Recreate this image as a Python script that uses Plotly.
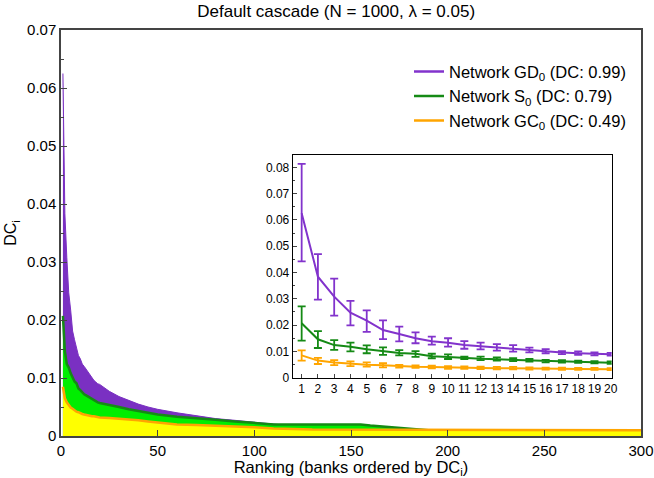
import plotly.graph_objects as go

# --- data ---
top_rank = list(range(1, 21))
tail_rank = [25, 30, 35, 40, 45, 50, 60, 70, 80, 90, 100, 110, 115, 120, 130,
             140, 150, 155, 160, 170, 180, 190, 200, 250, 300]

gd_mean = [0.0625, 0.0384, 0.0308, 0.0247, 0.0217, 0.0181, 0.0166, 0.0150, 0.0139, 0.0133,
           0.0124, 0.0120, 0.0115, 0.0110, 0.0105, 0.0100, 0.0096, 0.0093, 0.0090, 0.0089]
gd_hi = [0.0813, 0.0470, 0.0377, 0.0292, 0.0256, 0.0218, 0.0194, 0.0172, 0.0156, 0.0150,
         0.0139, 0.0133, 0.0128, 0.0124, 0.0114, 0.0109, 0.0101, 0.0100, 0.0096, 0.0094]
gd_lo = [0.0442, 0.0297, 0.0236, 0.0199, 0.0174, 0.0147, 0.0138, 0.0131, 0.0126, 0.0118,
         0.0110, 0.0108, 0.0103, 0.0099, 0.0096, 0.0093, 0.0090, 0.0087, 0.0085, 0.0084]
gd_tail = [0.0077, 0.0068, 0.0061, 0.0055, 0.0050, 0.0046, 0.0040, 0.0035, 0.0030, 0.0027,
           0.0024, 0.0021, 0.0019, 0.0016, 0.0014, 0.0012, 0.0011, 0.0010, 0.0010, 0.0009,
           0.0009, 0.0008, 0.0008, 0.0008, 0.0008]

s_mean = [0.0207, 0.0146, 0.0124, 0.0118, 0.0108, 0.0101, 0.0094, 0.0091, 0.0082, 0.0079,
          0.0075, 0.0072, 0.0070, 0.0068, 0.0066, 0.0063, 0.0062, 0.0060, 0.0058, 0.0057]
s_hi = [0.0271, 0.0177, 0.0143, 0.0133, 0.0123, 0.0115, 0.0105, 0.0101, 0.0091, 0.0089,
        0.0080, 0.0080, 0.0077, 0.0074, 0.0071, 0.0068, 0.0067, 0.0065, 0.0063, 0.0062]
s_lo = [0.0141, 0.0113, 0.0106, 0.0100, 0.0093, 0.0087, 0.0085, 0.0079, 0.0074, 0.0071,
        0.0071, 0.0067, 0.0065, 0.0063, 0.0061, 0.0058, 0.0057, 0.0056, 0.0055, 0.0053]
s_tail = [0.0054, 0.0050, 0.0046, 0.0043, 0.0040, 0.0037, 0.0033, 0.0031, 0.0028, 0.0025,
          0.0022, 0.0020, 0.0020, 0.0020, 0.0020, 0.0020, 0.0020, 0.0020, 0.0018, 0.0015,
          0.0013, 0.0010, 0.0010, 0.0010, 0.0010]

gc_mean = [0.0085, 0.0065, 0.0058, 0.0053, 0.0049, 0.0047, 0.0044, 0.0042, 0.0041, 0.0039,
           0.0038, 0.0037, 0.0036, 0.0036, 0.0035, 0.0034, 0.0034, 0.0033, 0.0033, 0.0032]
gc_hi = [0.0104, 0.0075, 0.0067, 0.0062, 0.0058, 0.0055, 0.0049, 0.0047, 0.0046, 0.0044,
         0.0043, 0.0042, 0.0041, 0.0041, 0.0039, 0.0038, 0.0038, 0.0037, 0.0037, 0.0036]
gc_lo = [0.0065, 0.0052, 0.0048, 0.0044, 0.0042, 0.0039, 0.0038, 0.0037, 0.0036, 0.0034,
         0.0034, 0.0033, 0.0032, 0.0032, 0.0031, 0.0031, 0.0030, 0.0030, 0.0030, 0.0029]
gc_tail = [0.0031, 0.0030, 0.0028, 0.0027, 0.0025, 0.0023, 0.0020, 0.0019, 0.0018, 0.0017,
           0.0015, 0.0013, 0.0012, 0.0012, 0.0011, 0.0011, 0.0010, 0.0010, 0.0010, 0.0010,
           0.0010, 0.0010, 0.0010, 0.0010, 0.0010]

legend_names = ["Network GD<sub>0</sub> (DC: 0.99)",
                "Network S<sub>0</sub> (DC: 0.79)",
                "Network GC<sub>0</sub> (DC: 0.49)"]

PURPLE = "#7a30c2"
PURPLE_LINE = "#8233cc"
GREEN_FILL = "#00ee00"
GREEN_LINE = "#158a15"
YELLOW = "#ffff00"
ORANGE = "#ffa500"
FONT = "Liberation Sans, Arial, sans-serif"

ranks = top_rank + tail_rank

fig = go.Figure()

# main panel: filled profiles, drawn back to front
fig.add_trace(go.Scatter(x=ranks, y=gd_mean + gd_tail, mode="lines", fill="tozeroy",
                         fillcolor=PURPLE, line=dict(color=PURPLE, width=1),
                         showlegend=False, hoverinfo="skip"))
fig.add_trace(go.Scatter(x=ranks, y=s_mean + s_tail, mode="lines", fill="tozeroy",
                         fillcolor=GREEN_FILL, line=dict(color=GREEN_LINE, width=2.5),
                         showlegend=False, hoverinfo="skip"))
fig.add_trace(go.Scatter(x=ranks, y=gc_mean + gc_tail, mode="lines", fill="tozeroy",
                         fillcolor=YELLOW, line=dict(color=ORANGE, width=2.5),
                         showlegend=False, hoverinfo="skip"))

# inset: top 20 with error bars
for mean, hi, lo, col in [(gd_mean, gd_hi, gd_lo, PURPLE_LINE),
                          (s_mean, s_hi, s_lo, GREEN_LINE),
                          (gc_mean, gc_hi, gc_lo, ORANGE)]:
    fig.add_trace(go.Scatter(
        x=top_rank, y=mean, mode="lines", xaxis="x2", yaxis="y2",
        line=dict(color=col, width=2), showlegend=False,
        error_y=dict(type="data", symmetric=False,
                     array=[h - m for h, m in zip(hi, mean)],
                     arrayminus=[m - l for m, l in zip(mean, lo)],
                     color=col, thickness=1.8, width=4),
    ))

# legend entries
for name, col in zip(legend_names, [PURPLE_LINE, GREEN_LINE, ORANGE]):
    fig.add_trace(go.Scatter(x=[None], y=[None], mode="lines", name=name,
                             line=dict(color=col, width=2.5)))

fig.update_layout(
    width=654, height=478,
    margin=dict(l=61, r=13, t=30, b=42),
    plot_bgcolor="white", paper_bgcolor="white",
    font=dict(family=FONT, size=15, color="black"),
    title=dict(text="Default cascade (N = 1000, λ = 0.05)", x=0.514, xanchor="center",
               y=0.99, yanchor="top", font=dict(size=17)),
    legend=dict(x=0.6, y=0.94, xanchor="left", yanchor="top",
                bgcolor="rgba(0,0,0,0)", font=dict(size=16.5), itemwidth=30,
                tracegroupgap=0),
    xaxis=dict(range=[0, 300], dtick=50, ticks="inside", ticklen=6, automargin=False,
               showline=True, linecolor="#444", linewidth=1.5, mirror=True,
               showgrid=False, zeroline=False,
               title=dict(text="Ranking (banks ordered by DC<sub>i</sub>)", standoff=2,
                          font=dict(size=16.5))),
    yaxis=dict(range=[0, 0.07], dtick=0.01, ticks="inside", ticklen=6, automargin=False,
               minor=dict(ticks="inside", dtick=0.005, ticklen=3),
               showline=True, linecolor="#444", linewidth=1.5, mirror=True,
               showgrid=False, zeroline=False,
               title=dict(text="DC<sub>i</sub>", standoff=6, font=dict(size=16))),
    xaxis2=dict(domain=[0.3995, 0.9495], anchor="y2", range=[0.45, 20.06], dtick=1,
                ticks="inside", ticklen=4, showline=True, linecolor="black",
                linewidth=1, mirror=True, showgrid=False, zeroline=False,
                automargin=False, tickfont=dict(size=12)),
    yaxis2=dict(domain=[0.1436, 0.6929], anchor="x2", range=[0, 0.0848], dtick=0.01,
                ticks="inside", ticklen=4,
                minor=dict(ticks="inside", dtick=0.005, ticklen=2),
                showline=True, linecolor="black", linewidth=1, mirror=True,
                showgrid=False, zeroline=False, automargin=False,
                tickfont=dict(size=12)),
)

# page body has a default 8px margin; drop it so the figure sits at the window corner
fig.write_html("out.html", config={"displayModeBar": False},
               post_script="document.body.style.margin = '0px';")
